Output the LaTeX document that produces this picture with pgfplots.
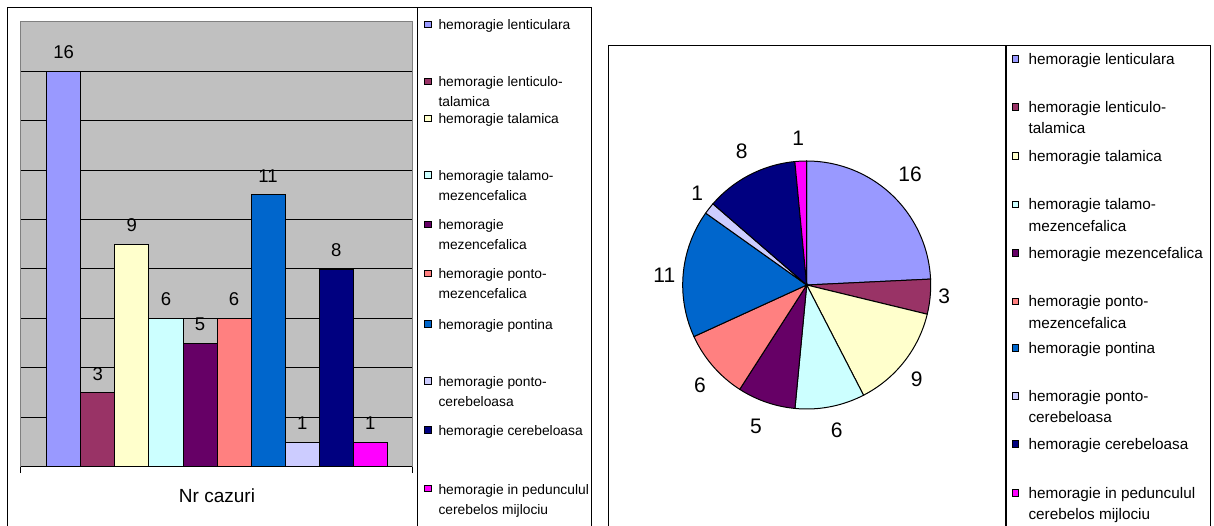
\documentclass[border=0pt]{standalone}
\usepackage{pgfplots}
\pgfplotsset{compat=1.18}
\usepackage{fontspec}
\setmainfont{Liberation Sans}

\definecolor{c1}{HTML}{9999FF}
\definecolor{c2}{HTML}{993366}
\definecolor{c3}{HTML}{FFFFCC}
\definecolor{c4}{HTML}{CCFFFF}
\definecolor{c5}{HTML}{660066}
\definecolor{c6}{HTML}{FF8080}
\definecolor{c7}{HTML}{0066CC}
\definecolor{c8}{HTML}{CCCCFF}
\definecolor{c9}{HTML}{000080}
\definecolor{c10}{HTML}{FF00FF}
\definecolor{plotgray}{HTML}{C0C0C0}
\definecolor{bordergray}{HTML}{808080}

\newcommand\barfont{\fontsize{18.5}{22}\selectfont}
\newcommand\piefont{\fontsize{21}{25}\selectfont}
\newcommand\legLfont{\fontsize{13.8}{16}\selectfont}
\newcommand\legRfont{\fontsize{15.3}{18}\selectfont}

% legend entry: square x, text x, baseline y, colour, font, line 1, line 2, line gap
\newcommand\legentry[8]{%
  \filldraw[fill=#4, draw=black, line width=0.8pt] ({#1-3.2},{#3+5.5-3.2}) rectangle ({#1+3.2},{#3+5.5+3.2});
  \node[anchor=base west, inner sep=0pt, font=#5] at (#2,#3) {#6};
  \node[anchor=base west, inner sep=0pt, font=#5] at (#2,{#3-#8}) {#7};
}

% pie slice from value and colour (total 66 cases)
\def\pieTotal{66}
\newcommand\pieslice[2]{%
  \pgfmathsetmacro\pieEnd{\pieStart-#1/\pieTotal*360}%
  \edef\tmp{\noexpand\addplot[fill=#2, draw=black, line width=1pt, domain=\pieEnd:\pieStart, samples=80]
    ({124*cos(x)},{124*sin(x)}) -- (axis cs:0,0) -- cycle;}%
  \tmp
  \global\let\pieStart\pieEnd
}

\begin{document}
\begin{tikzpicture}[x=1pt,y=1pt]
\path[use as bounding box, fill=white] (0,0) rectangle (1214,525);

% ---------------- bar chart ----------------
\begin{axis}[
  at={(20.7pt,58.3pt)}, anchor=south west, scale only axis,
  width=391.6pt, height=445pt,
  xmin=-1.263, xmax=10.234, ymin=0, ymax=18,
  axis background/.style={fill=plotgray, draw=bordergray, line width=1pt},
  axis line style={draw=none},
  ytick={0,2,...,16}, yticklabels={}, ymajorgrids,
  major grid style={black, line width=0.9pt},
  ytick style={draw=none},
  xtick={-1.263,10.234}, xticklabels={}, xtick pos=bottom,
  tick align=outside, xtick style={black, line width=1pt}, major tick length=6.5pt,
  /pgf/number format/assume math mode=true,
  nodes near coords={\pgfmathprintnumber[assume math mode=true]{\pgfplotspointmeta}},
  every node near coord/.append style={font=\barfont, anchor=base, yshift=12.4pt, text=black},
  clip=false,
]
\addplot[ybar, bar width=1, bar shift=0, fill=c1, draw=black, line width=0.8pt] coordinates {(0,16)};
\addplot[ybar, bar width=1, bar shift=0, fill=c2, draw=black, line width=0.8pt] coordinates {(1,3)};
\addplot[ybar, bar width=1, bar shift=0, fill=c3, draw=black, line width=0.8pt] coordinates {(2,9)};
\addplot[ybar, bar width=1, bar shift=0, fill=c4, draw=black, line width=0.8pt] coordinates {(3,6)};
\addplot[ybar, bar width=1, bar shift=0, fill=c5, draw=black, line width=0.8pt] coordinates {(4,5)};
\addplot[ybar, bar width=1, bar shift=0, fill=c6, draw=black, line width=0.8pt] coordinates {(5,6)};
\addplot[ybar, bar width=1, bar shift=0, fill=c7, draw=black, line width=0.8pt] coordinates {(6,11)};
\addplot[ybar, bar width=1, bar shift=0, fill=c8, draw=black, line width=0.8pt] coordinates {(7,1)};
\addplot[ybar, bar width=1, bar shift=0, fill=c9, draw=black, line width=0.8pt] coordinates {(8,8)};
\addplot[ybar, bar width=1, bar shift=0, fill=c10, draw=black, line width=0.8pt] coordinates {(9,1)};
\end{axis}
\node[font=\fontsize{19}{22}\selectfont] at (217,29) {Nr cazuri};

% frames of the left panel
\draw[line width=1.2pt] (7.3,-5) -- (7.3,517.7) -- (591.5,517.7) -- (591.5,-5);
\draw[line width=1.2pt] (417.3,517.7) -- (417.3,-5);

% left legend
\legentry{428}{438.3}{495.3}{c1}{\legLfont}{hemoragie lenticulara}{}{20}
\legentry{428}{438.3}{438.1}{c2}{\legLfont}{hemoragie lenticulo-}{talamica}{20}
\legentry{428}{438.3}{401.1}{c3}{\legLfont}{hemoragie talamica}{}{20}
\legentry{428}{438.3}{344.5}{c4}{\legLfont}{hemoragie talamo-}{mezencefalica}{20}
\legentry{428}{438.3}{295.1}{c5}{\legLfont}{hemoragie}{mezencefalica}{20}
\legentry{428}{438.3}{246.2}{c6}{\legLfont}{hemoragie ponto-}{mezencefalica}{20}
\legentry{428}{438.3}{195.7}{c7}{\legLfont}{hemoragie pontina}{}{20}
\legentry{428}{438.3}{138.5}{c8}{\legLfont}{hemoragie ponto-}{cerebeloasa}{20}
\legentry{428}{438.3}{89.8}{c9}{\legLfont}{hemoragie cerebeloasa}{}{20}
\legentry{428}{438.3}{31}{c10}{\legLfont}{hemoragie in pedunculul}{cerebelos mijlociu}{20}

% ---------------- pie chart ----------------
\begin{axis}[
  at={(606.7pt,40pt)}, anchor=south west,
  x=1pt, y=1pt, xmin=-200, xmax=200, ymin=-200, ymax=200,
  hide axis, clip=false,
]
\gdef\pieStart{90}
\pieslice{16}{c1}
\pieslice{3}{c2}
\pieslice{9}{c3}
\pieslice{6}{c4}
\pieslice{5}{c5}
\pieslice{6}{c6}
\pieslice{11}{c7}
\pieslice{1}{c8}
\pieslice{8}{c9}
\pieslice{1}{c10}
\node[font=\piefont] at (axis cs:103.3,111) {16};
\node[font=\piefont] at (axis cs:137.6,-11.7) {3};
\node[font=\piefont] at (axis cs:110,-94.3) {9};
\node[font=\piefont] at (axis cs:30,-145) {6};
\node[font=\piefont] at (axis cs:-50.7,-141) {5};
\node[font=\piefont] at (axis cs:-106.7,-100) {6};
\node[font=\piefont] at (axis cs:-142.4,10) {11};
\node[font=\piefont] at (axis cs:-109.4,91.7) {1};
\node[font=\piefont] at (axis cs:-65,133.3) {8};
\node[font=\piefont] at (axis cs:-8.4,146.7) {1};
\end{axis}

% frames of the right panel
\draw[line width=1.2pt] (608.3,-5) -- (608.3,479.3) -- (1210.7,479.3) -- (1210.7,-5);
\draw[line width=1.2pt] (1006,479.3) -- (1006,-5);

% right legend
\legentry{1015.5}{1028.3}{460.7}{c1}{\legRfont}{hemoragie lenticulara}{}{21.3}
\legentry{1015.5}{1028.3}{412.7}{c2}{\legRfont}{hemoragie lenticulo-}{talamica}{21.3}
\legentry{1015.5}{1028.3}{363.7}{c3}{\legRfont}{hemoragie talamica}{}{21.3}
\legentry{1015.5}{1028.3}{315.2}{c4}{\legRfont}{hemoragie talamo-}{mezencefalica}{21.3}
\legentry{1015.5}{1028.3}{266.7}{c5}{\legRfont}{hemoragie mezencefalica}{}{21.3}
\legentry{1015.5}{1028.3}{218.2}{c6}{\legRfont}{hemoragie ponto-}{mezencefalica}{21.3}
\legentry{1015.5}{1028.3}{171.7}{c7}{\legRfont}{hemoragie pontina}{}{21.3}
\legentry{1015.5}{1028.3}{123.7}{c8}{\legRfont}{hemoragie ponto-}{cerebeloasa}{21.3}
\legentry{1015.5}{1028.3}{75.7}{c9}{\legRfont}{hemoragie cerebeloasa}{}{21.3}
\legentry{1015.5}{1028.3}{26.7}{c10}{\legRfont}{hemoragie in pedunculul}{cerebelos mijlociu}{21.3}
\end{tikzpicture}
\end{document}
